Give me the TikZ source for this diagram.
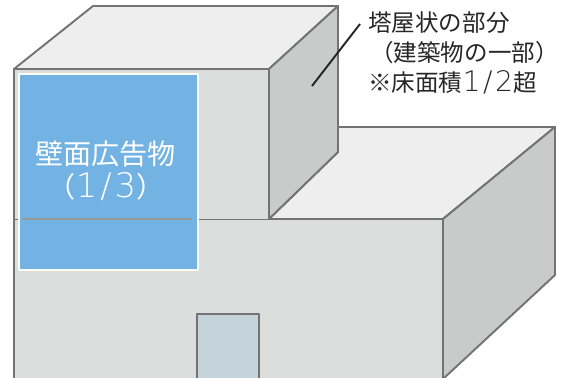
\documentclass[tikz,border=0pt]{standalone}
\usepackage{fontspec}
\setmainfont{Noto Sans CJK JP}
\newfontfamily\widelatin[Scale=1.2,LetterSpace=9]{DejaVu Sans ExtraLight}
\usetikzlibrary{positioning}

\begin{document}
\begin{tikzpicture}[
	x=0.02cm,
	y=-0.02cm,
	line join=round]

\tikzstyle{edge}=[draw=gray!90!black,line width=1.1pt]
\tikzstyle{front wall}=[edge,fill=wallfront]
\tikzstyle{side wall}=[edge,fill=wallside]
\tikzstyle{roof}=[edge,fill=wallroof]
\tikzstyle{note}=[anchor=west,inner sep=0pt,font=\fontsize{13.4pt}{16pt}\selectfont,text=black!85]
\tikzstyle{sign text}=[inner sep=0pt,text=white,font=\fontsize{16pt}{19pt}\selectfont]

\definecolor{wallfront}{HTML}{DCDEDD}
\definecolor{wallside}{HTML}{C9CBCA}
\definecolor{wallroof}{HTML}{EEEEEE}
\definecolor{signblue}{HTML}{72B3E3}
\definecolor{doorblue}{HTML}{C5D3DA}

\useasboundingbox (0,0) rectangle (561,378);
\clip (0,0) rectangle (561,378);

% Lower building
\path[roof] (269,219) -- (338,152) -- (338,127) -- (555,127) -- (443,219) -- cycle;
\path[side wall] (443,219) -- (555,127) -- (555,275) -- (443,379) -- cycle;
\path[front wall] (14,219) -- (443,219) -- (443,390) -- (14,390) -- cycle;

% Door
\path[edge,fill=doorblue] (197,314) rectangle (259,390);

% Penthouse
\path[roof] (14,69) -- (93,6) -- (338,6) -- (269,69) -- cycle;
\path[side wall] (269,69) -- (338,6) -- (338,152) -- (269,219) -- cycle;
\path[front wall] (14,219) -- (14,69) -- (269,69) -- (269,219);

% Wall sign
\path[draw=white,line width=0.7pt,fill=signblue] (19,74) rectangle (198,270);
\draw[gray!80,line width=1.1pt] (22,219) -- (192,219);
\node[sign text] (signname) at (105.5,154) {壁面広告物};
\node[sign text] (signratio) at (106,187) {（{\widelatin 1/3}）};

% Note and its leader
\node[note] (notea) at (368,23) {塔屋状の部分};
\node[note] (noteb) at (370,53) {（建築物の一部）};
\node[note] (notec) at (368,82) {※床面積{\widelatin 1/2}超};
\coordinate (leadstart) at (360,24);
\coordinate (leadend) at (312,86);
\draw[black!85,line width=1.1pt] (leadstart) -- (leadend);

\end{tikzpicture}
\end{document}
